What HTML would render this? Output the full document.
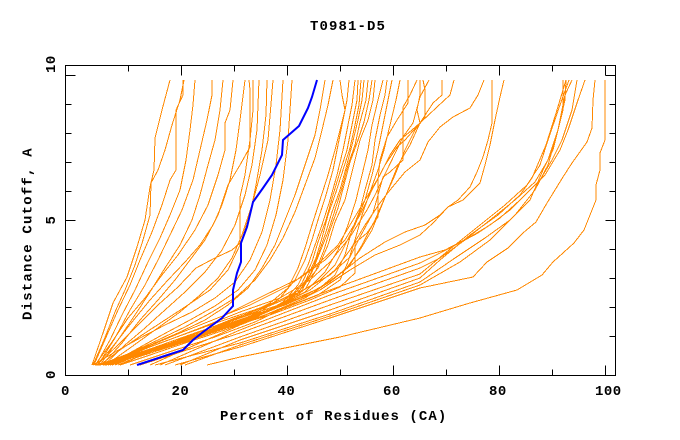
<!DOCTYPE html>
<html>
<head>
<meta charset="utf-8">
<style>
html,body{margin:0;padding:0;background:#fff;}
svg{display:block;}
.o{fill:none;stroke:#ff8800;stroke-width:1;}
.t{font-family:"Liberation Mono",monospace;font-weight:bold;font-size:14px;fill:#000;}
</style>
</head>
<body>
<svg width="680" height="440" viewBox="0 0 680 440" xmlns="http://www.w3.org/2000/svg">
<rect width="680" height="440" fill="#fff"/>

<!-- title -->
<text class="t" x="310" y="30" style="letter-spacing:1.1px">T0981-D5</text>
<!-- x label -->
<text class="t" x="220" y="420" style="letter-spacing:1.07px">Percent of Residues (CA)</text>
<!-- y label -->
<text class="t" transform="translate(31.5,320) rotate(-90)" x="0" y="0" style="letter-spacing:1.2px">Distance Cutoff, A</text>

<!-- x tick labels -->
<text class="t" x="61" y="395">0</text>
<text class="t" x="171.5" y="395" style="letter-spacing:0.5px">20</text>
<text class="t" x="277.5" y="395" style="letter-spacing:0.5px">40</text>
<text class="t" x="383" y="395" style="letter-spacing:0.5px">60</text>
<text class="t" x="489" y="395" style="letter-spacing:0.5px">80</text>
<text class="t" x="595" y="395" style="letter-spacing:0.5px">100</text>
<!-- y tick labels (rotated) -->
<text class="t" transform="translate(55,73) rotate(-90)" style="letter-spacing:0.5px">10</text>
<text class="t" transform="translate(55,224.5) rotate(-90)">5</text>
<text class="t" transform="translate(55,379) rotate(-90)">0</text>

<g shape-rendering="crispEdges">
<!-- Group A: left fan -->
<polyline class="o" points="92,365 103,333 113,303 127,277 137,247 145,220 150,187 154,170 155,138 162,110 170,80"/>
<polyline class="o" points="94,365 107,335 118,310 130,285 140,260 152,232 162,205 170,180 176,170 176,110 183,95 183,80"/>
<polyline class="o" points="93,365 104,340 115,312 125,290 135,265 143,240 150,215 151,183 158,170 165,150 172,125 180,100 184,80"/>
<polyline class="o" points="96,365 110,340 122,315 135,290 148,262 160,238 170,215 180,190 186,160 190,130 193,105 195,80"/>
<polyline class="o" points="98,365 115,338 130,310 145,285 158,260 170,235 182,210 193,180 200,150 207,120 212,95 212,80"/>
<polyline class="o" points="100,365 118,340 135,315 150,292 165,268 180,245 192,220 200,195 208,165 215,140 220,110 223,80"/>
<polyline class="o" points="95,365 112,342 128,318 145,298 162,275 178,255 195,230 208,205 218,175 225,150 225,123 230,110 233,80"/>
<polyline class="o" points="102,365 122,343 140,320 158,300 175,280 190,260 205,240 218,215 228,185 240,165 250,147 250,90 249,80"/>
<polyline class="o" points="97,365 114,345 132,322 150,300 168,280 185,262 200,245 213,225 222,205 230,180 236,150 240,120 245,80"/>
<polyline class="o" points="97,365 118,345 138,325 158,305 178,287 196,268 215,258 232,250 240,243 240,197 245,175 250,140 253,110 253,80"/>
<polyline class="o" points="104,365 125,345 145,328 165,310 185,292 205,272 222,250 235,225 245,195 252,165 257,130 259,80"/>
<polyline class="o" points="100,365 120,350 142,335 165,320 188,305 210,290 228,270 240,245 250,215 256,185 262,150 266,115 267,80"/>
<polyline class="o" points="106,365 130,348 155,330 180,312 200,295 218,278 232,258 242,235 252,205 260,175 268,140 273,80"/>
<polyline class="o" points="93,365 115,352 140,338 165,325 192,312 215,298 235,282 250,260 262,232 270,200 276,165 280,130 283,80"/>
<polyline class="o" points="108,365 135,350 162,335 190,320 215,306 238,290 255,270 267,245 276,215 283,180 288,140 292,80"/>
<polyline class="o" points="99,365 125,355 150,345 178,333 205,320 228,305 248,288 262,268 275,245 285,220 295,195 305,165 315,135 320,110 325,80"/>
<polyline class="o" points="104,365 130,353 158,340 185,327 212,312 235,298 255,280 270,260 283,238 295,212 305,185 315,158 322,130 328,105 333,80"/>

<!-- Group B: dense cluster -->
<polyline class="o" points="95,365 135,354 180,340 225,326 260,312 280,298 295,280 305,260 312,240 318,220 326,195 333,170 338,145 343,120 347,100 349,80"/>
<polyline class="o" points="97,365 125,358 170,346 215,332 255,318 283,302 298,285 308,265 315,245 322,225 330,200 337,175 343,150 348,125 352,105 355,80"/>
<polyline class="o" points="100,365 140,353 185,340 230,325 265,313 288,300 302,283 312,262 318,242 326,220 333,195 340,172 347,150 352,125 357,100 358,80"/>
<polyline class="o" points="103,365 150,351 195,337 240,322 270,310 292,297 306,280 316,258 322,238 328,215 336,192 343,170 350,148 355,125 359,105 361,80"/>
<polyline class="o" points="106,365 160,349 205,334 245,320 276,308 298,293 310,275 318,255 325,235 332,212 340,190 346,168 352,145 358,120 362,100 364,80"/>
<polyline class="o" points="110,365 165,347 210,332 250,318 282,306 302,290 312,272 320,252 328,232 335,210 342,188 348,165 355,145 360,122 366,100 368,80"/>
<polyline class="o" points="96,365 170,346 218,330 258,316 288,303 306,288 316,270 324,250 330,230 338,208 344,185 350,162 358,140 364,122 369,100 372,80"/>
<polyline class="o" points="99,365 150,349 195,333 240,318 270,303 288,288 298,268 305,248 312,225 320,200 328,175 335,150 340,130 345,110 342,95 340,80"/>

<!-- Group C -->
<polyline class="o" points="100,365 130,358 170,345 220,330 270,315 310,300 340,287 355,273 355,243 367,233 378,217 378,180 380,160 387,137 397,120 408,103 408,80"/>
<polyline class="o" points="100,365 110,362 160,343 210,325 260,308 300,292 330,275 350,257 360,237 373,213 378,195 383,177 390,172 403,160 403,107 410,95 417,80"/>
<polyline class="o" points="105,365 150,347 195,330 240,312 280,298 310,280 330,262 350,237 367,210 375,195 387,170 403,137 413,123 420,97 429,80"/>
<polyline class="o" points="98,365 135,352 180,333 225,315 265,295 300,278 325,260 345,240 360,215 372,190 385,165 397,147 405,140 420,123 433,103 442,95 442,80"/>
<polyline class="o" points="105,365 150,345 200,325 250,305 290,285 320,262 338,245 350,225 365,200 380,175 390,155 400,140 412,130 420,123 437,107 450,95 454,80"/>
<polyline class="o" points="108,365 140,355 185,338 230,320 270,305 300,290 318,268 328,245 335,222 345,200 350,180 355,160 360,140 368,120 373,100 375,80"/>
<polyline class="o" points="112,365 145,353 190,338 235,322 275,308 305,292 325,272 338,250 348,225 356,200 362,175 368,150 372,125 378,100 383,80"/>
<polyline class="o" points="115,365 150,350 200,335 245,318 285,305 315,292 335,275 345,255 352,230 360,210 365,190 372,165 375,140 380,115 385,95 387,80"/>
<polyline class="o" points="120,365 160,347 210,328 255,312 295,295 320,280 335,265 345,245 355,225 365,200 372,175 378,150 383,125 388,100 392,80"/>
<polyline class="o" points="118,365 135,358 185,342 235,325 280,310 318,295 340,280 348,262 355,240 362,215 370,192 378,170 384,150 390,125 396,100 400,80"/>
<polyline class="o" points="112,365 140,355 190,337 240,318 285,303 320,288 345,270 360,250 372,230 382,205 390,185 398,165 410,145 420,123 417,110 420,95 420,80"/>
<polyline class="o" points="120,365 125,362 165,346 215,328 260,313 300,298 330,282 350,265 362,245 375,220 386,195 395,175 405,150 415,130 425,117 425,90 423,80"/>

<!-- Group D/E -->
<polyline class="o" points="120,365 150,355 185,343 225,330 265,315 305,298 335,278 360,258 385,242 405,232 425,225 440,215 448,207 458,200 470,187 477,172 483,157 488,140 492,123 492,80"/>
<polyline class="o" points="130,365 175,350 215,337 255,322 290,305 320,290 350,270 375,255 400,245 420,235 433,223 448,207 463,200 480,183 485,165 490,145 495,120 500,97 504,80"/>
<polyline class="o" points="105,365 120,360 170,345 220,328 270,310 310,290 335,270 350,250 365,225 380,203 390,190 405,172 420,160 428,142 432,137 440,127 453,117 470,108 478,95 484,80"/>

<!-- Group R: band to right -->
<polyline class="o" points="207,365 240,357 340,337 420,318 470,303 517,290 542,275 553,262 574,243 584,230 596,200 596,185 600,170 600,153 605,140 605,80"/>
<polyline class="o" points="175,365 240,347 330,318 420,288 473,277 487,262 508,248 523,233 536,222 547,203 563,177 572,163 587,142 592,128 593,100 595,80"/>
<polyline class="o" points="150,365 240,325 330,290 420,257 445,250 470,237 490,225 510,210 530,190 545,175 560,150 568,130 578,100 585,80"/>
<polyline class="o" points="160,365 240,330 330,295 420,263 450,248 478,233 500,218 520,200 540,180 552,160 562,140 572,110 577,80"/>
<polyline class="o" points="140,365 240,333 330,300 420,268 440,258 465,240 490,220 515,200 535,182 548,160 558,130 565,95 572,80"/>
<polyline class="o" points="165,365 240,337 330,305 420,274 455,245 480,225 505,205 527,185 540,165 548,140 560,105 569,80"/>
<polyline class="o" points="180,365 240,340 330,310 420,278 440,260 470,235 498,215 520,195 532,178 546,145 557,110 566,80"/>
<polyline class="o" points="155,365 240,343 330,314 420,282 455,258 485,238 510,220 530,200 543,170 553,150 563,110 563,80"/>
<polyline class="o" points="185,365 240,345 330,316 420,285 460,262 490,240 515,215 535,190 548,165 558,130 565,100 566,80"/>
</g>

<!-- blue target line -->
<polyline fill="none" stroke="#0000ff" stroke-width="2" stroke-linejoin="miter" points="137,365 183,350 193,340 203,332 222,318 233,306 233,290 237,273 241,262 241,243 247,227 253,202 263,188 272,175 282,155 283,140 299,126 308,108 312,97 317,80"/>

<!-- frame and ticks -->
<g stroke="#000" stroke-width="1" shape-rendering="crispEdges" fill="none">
<rect x="65.5" y="65.5" width="550" height="310"/>
<!-- left ticks -->
<path d="M65.5,75.5h10 M65.5,104.5h6 M65.5,133.5h6 M65.5,162.5h6 M65.5,191.5h6 M65.5,220.5h10 M65.5,249.5h6 M65.5,278.5h6 M65.5,307.5h6 M65.5,336.5h6"/>
<!-- right ticks -->
<path d="M615.5,75.5h-10 M615.5,104.5h-6 M615.5,133.5h-6 M615.5,162.5h-6 M615.5,191.5h-6 M615.5,220.5h-10 M615.5,249.5h-6 M615.5,278.5h-6 M615.5,307.5h-6 M615.5,336.5h-6"/>
<!-- top ticks -->
<path d="M128.5,65.5v6 M181.5,65.5v10 M234.5,65.5v6 M287.5,65.5v10 M340.5,65.5v6 M393.5,65.5v10 M446.5,65.5v6 M499.5,65.5v10 M552.5,65.5v6 M605.5,65.5v10"/>
<!-- bottom ticks -->
<path d="M128.5,375.5v-6 M181.5,375.5v-10 M234.5,375.5v-6 M287.5,375.5v-10 M340.5,375.5v-6 M393.5,375.5v-10 M446.5,375.5v-6 M499.5,375.5v-10 M552.5,375.5v-6 M605.5,375.5v-10"/>
</g>
</svg>
</body>
</html>
